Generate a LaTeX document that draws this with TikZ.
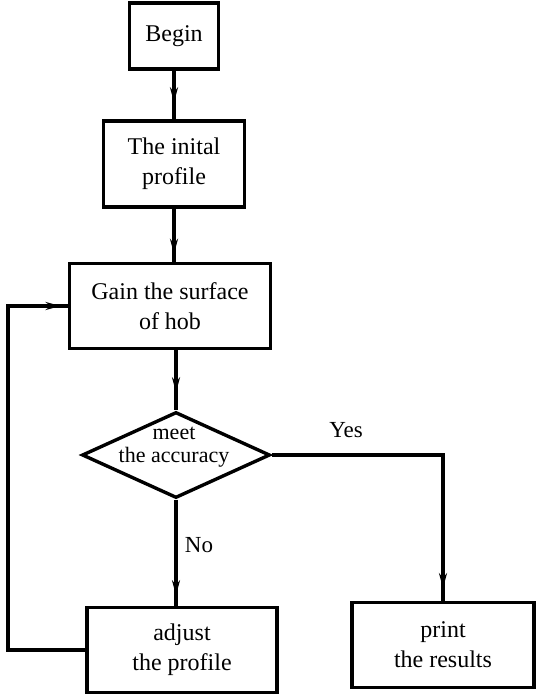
\documentclass[tikz,border=0pt]{standalone}
\usepackage{fontspec}
\setmainfont{Liberation Serif}
\usetikzlibrary{shapes.geometric,arrows.meta,decorations.markings}

\begin{document}
\begin{tikzpicture}[x=1pt,y=-1pt,
        box/.style={draw,line width=3.4pt,align=center,inner sep=0pt,
            font=\fontsize{24}{30}\selectfont},
        link/.style={line width=3.2pt},
        arrowat/.style={postaction={decorate,decoration={markings,
            mark=at position #1 with {\arrow{Stealth[length=15pt,width=8pt]}}}}}]
\useasboundingbox (0,0) rectangle (536,696);

\node[box,minimum width=89pt,minimum height=66pt] (begin) at (174,36) {Begin};
\node[box,minimum width=141pt,minimum height=86pt] (init) at (174,164) {The inital\\profile};
\node[box,minimum width=201pt,minimum height=85pt] (gain) at (170,306) {Gain the surface\\of hob};
\node[draw,diamond,line width=3.4pt,minimum width=188pt,minimum height=86pt,
    inner sep=0pt] (acc) at (176,455) {};
\node[align=center,font=\fontsize{22}{23}\selectfont] (acctext) at (174,447) {meet\\the accuracy};
\node[box,minimum width=190pt,minimum height=85pt] (adjust) at (182,650) {adjust\\the profile};
\node[box,minimum width=182pt,minimum height=85pt] (print) at (443,645) {print\\the results};

\node[font=\fontsize{23}{25}\selectfont] (yes) at (346,430) {Yes};
\node[font=\fontsize{23}{25}\selectfont] (no) at (199,545) {No};
\coordinate (back) at (8,306);

% main line
\draw[link,arrowat=0.65] (begin) -- (init);
\draw[link,arrowat=0.85] (init) -- (init |- gain.north);
\draw[link,arrowat=0.7] (acc.north |- gain.south) -- (acc.north);
\draw[link,arrowat=0.9] (acc.south) -- (acc.south |- adjust.north);
\draw[link,arrowat=0.96] (acc.east) -| (print.north);
% loop back
\draw[link,arrowat=0.985] (adjust.west) -| (back) -- (gain.west);

\end{tikzpicture}
\end{document}
